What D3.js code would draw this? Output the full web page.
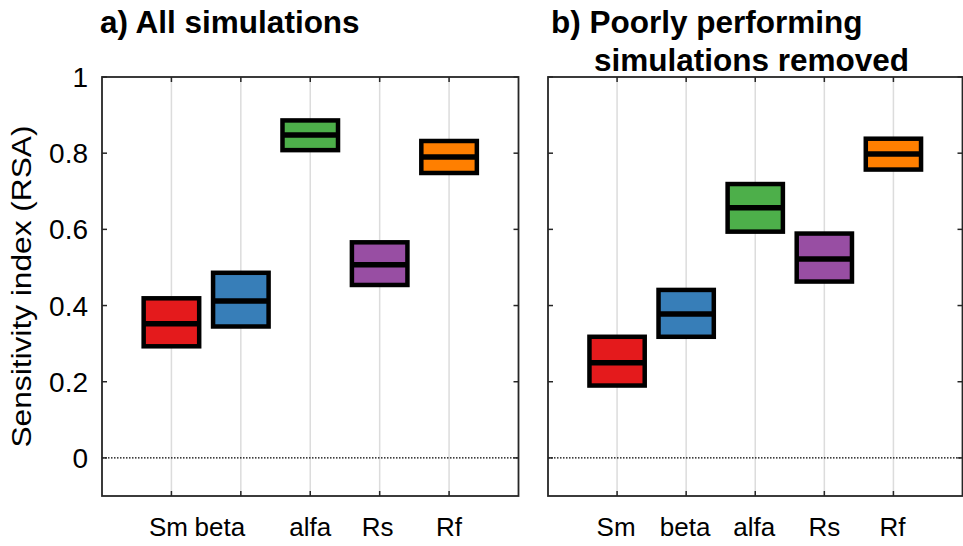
<!DOCTYPE html>
<html>
<head>
<meta charset="utf-8">
<script src="https://cdn.jsdelivr.net/npm/d3@7"></script>
<style>
  html, body { margin: 0; padding: 0; background: #fff; }
  svg { display: block; }
  text { font-family: "Liberation Sans", Arial, sans-serif; fill: #000; }
</style>
</head>
<body>
<svg id="chart" width="963" height="546"></svg>
<script>
// ---- data ----
const categories = ["Sm", "beta", "alfa", "Rs", "Rf"];
const colors = ["#e41a1c", "#377eb8", "#4daf4a", "#984ea3", "#ff7f00"];
// a) All simulations
const allLow  = [0.293, 0.345, 0.808, 0.454, 0.748];
const allMid  = [0.352, 0.412, 0.848, 0.507, 0.790];
const allHigh = [0.419, 0.486, 0.886, 0.566, 0.832];
// b) Poorly performing simulations removed
const filtLow  = [0.190, 0.318, 0.594, 0.463, 0.757];
const filtMid  = [0.250, 0.378, 0.657, 0.522, 0.798];
const filtHigh = [0.318, 0.441, 0.719, 0.589, 0.838];
const yTicks = [0, 0.2, 0.4, 0.6, 0.8, 1];
const yTickLabels = ["0", "0.2", "0.4", "0.6", "0.8", "1"];
const yLabel = "Sensitivity index (RSA)";

// ---- layout ----
const svg = d3.select("#chart");
const plotTop = 77, plotBottom = 496;
const y = d3.scaleLinear().domain([-0.1, 1]).range([plotBottom, plotTop]);

const panels = [
  { x0: 102, x1: 518.5, low: allLow, mid: allMid, high: allHigh,
    title: [{ t: "a) All simulations", dx: -2, y: 33 }],
    showY: true, labelShift: [-3, -21, 0, -2, 0] },
  { x0: 548, x1: 962.5, low: filtLow, mid: filtMid, high: filtHigh,
    title: [{ t: "b) Poorly performing", dx: 3, y: 33 },
            { t: "simulations removed", dx: 46, y: 71 }],
    showY: false, labelShift: [-1, -1, -1, 0, -1] }
];

panels.forEach(p => {
  const x = d3.scaleLinear().domain([0, 6]).range([p.x0, p.x1]);
  const g = svg.append("g");
  const idx = d3.range(categories.length);

  // vertical grid lines
  g.selectAll("line.grid").data(idx).join("line")
    .attr("x1", i => x(i + 1)).attr("x2", i => x(i + 1))
    .attr("y1", plotTop).attr("y2", plotBottom)
    .attr("stroke", "#dcdcdc").attr("stroke-width", 1.5);

  // zero dotted line
  g.append("line")
    .attr("x1", p.x0).attr("x2", p.x1)
    .attr("y1", y(0)).attr("y2", y(0))
    .attr("stroke", "#000").attr("stroke-width", 1.2)
    .attr("stroke-dasharray", "1.5,1.5");

  // ticks (inward, both sides)
  const tl = 5;
  g.selectAll("line.yt").data(yTicks).join("line")
    .attr("x1", p.x0).attr("x2", p.x0 + tl)
    .attr("y1", d => y(d)).attr("y2", d => y(d))
    .attr("stroke", "#262626").attr("stroke-width", 1.5);
  g.selectAll("line.yt2").data(yTicks).join("line")
    .attr("x1", p.x1).attr("x2", p.x1 - tl)
    .attr("y1", d => y(d)).attr("y2", d => y(d))
    .attr("stroke", "#262626").attr("stroke-width", 1.5);
  g.selectAll("line.xt").data(idx).join("line")
    .attr("x1", i => x(i + 1)).attr("x2", i => x(i + 1))
    .attr("y1", plotBottom).attr("y2", plotBottom - tl)
    .attr("stroke", "#262626").attr("stroke-width", 1.5);
  g.selectAll("line.xt2").data(idx).join("line")
    .attr("x1", i => x(i + 1)).attr("x2", i => x(i + 1))
    .attr("y1", plotTop).attr("y2", plotTop + tl)
    .attr("stroke", "#262626").attr("stroke-width", 1.5);

  // frame
  g.append("rect")
    .attr("x", p.x0).attr("y", plotTop)
    .attr("width", p.x1 - p.x0).attr("height", plotBottom - plotTop)
    .attr("fill", "none").attr("stroke", "#262626").attr("stroke-width", 1.8);

  // boxes
  const hw = 0.4;
  g.selectAll("rect.box").data(idx).join("rect")
    .attr("x", i => x(i + 1 - hw))
    .attr("width", i => x(i + 1 + hw) - x(i + 1 - hw))
    .attr("y", i => y(p.high[i]))
    .attr("height", i => y(p.low[i]) - y(p.high[i]))
    .attr("fill", i => colors[i])
    .attr("stroke", "#000").attr("stroke-width", 4.5);
  g.selectAll("line.mid").data(idx).join("line")
    .attr("x1", i => x(i + 1 - hw)).attr("x2", i => x(i + 1 + hw))
    .attr("y1", i => y(p.mid[i])).attr("y2", i => y(p.mid[i]))
    .attr("stroke", "#000").attr("stroke-width", 5.5);

  // x tick labels
  g.selectAll("text.xl").data(idx).join("text")
    .attr("x", i => x(i + 1) + p.labelShift[i])
    .attr("y", 536)
    .attr("text-anchor", "middle")
    .style("font-size", "26px")
    .text(i => categories[i]);

  // y tick labels
  if (p.showY) {
    g.selectAll("text.yl").data(yTicks).join("text")
      .attr("x", p.x0 - 14)
      .attr("y", d => y(d))
      .attr("dy", "0.36em")
      .attr("text-anchor", "end")
      .style("font-size", "28px")
      .text((d, i) => yTickLabels[i]);
    g.append("text")
      .attr("transform", `translate(31,${(plotTop + plotBottom) / 2}) rotate(-90)`)
      .attr("text-anchor", "middle")
      .attr("textLength", 322)
      .attr("lengthAdjust", "spacingAndGlyphs")
      .style("font-size", "27px")
      .text(yLabel);
  }

  // titles
  p.title.forEach(tt => {
    svg.append("text")
      .attr("x", p.x0 + tt.dx).attr("y", tt.y)
      .style("font-size", "31.5px").style("font-weight", "bold")
      .text(tt.t);
  });
});
</script>
</body>
</html>
